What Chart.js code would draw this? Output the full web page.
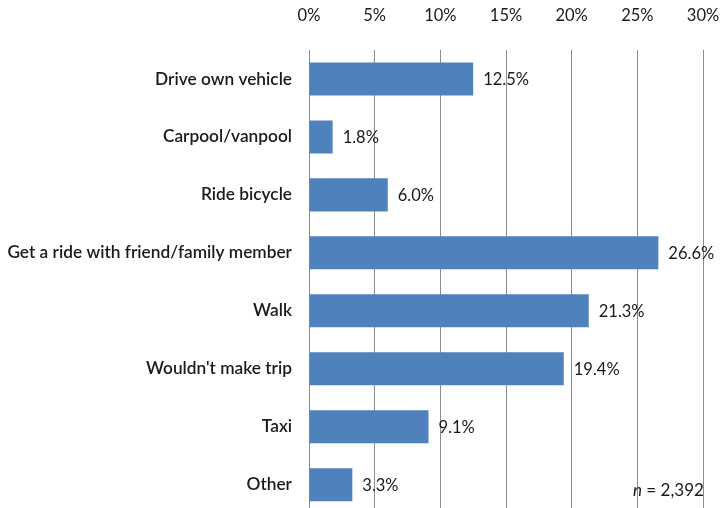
<!DOCTYPE html>
<html>
<head>
<meta charset="utf-8">
<script src="https://cdn.jsdelivr.net/npm/chart.js@4/dist/chart.umd.min.js"></script>
<style>
  html, body { margin: 0; padding: 0; background: #fff; overflow: hidden; }
  #wrap { width: 727px; height: 508px; overflow: hidden; position: relative; }
  #chart { position: absolute; left: 0; top: 0; }
</style>
</head>
<body>
<div id="wrap"><canvas id="chart" width="727" height="533"></canvas></div>
<script>
// ===== Data =====
const categories = [
  'Drive own vehicle',
  'Carpool/vanpool',
  'Ride bicycle',
  'Get a ride with friend/family member',
  'Walk',
  "Wouldn't make trip",
  'Taxi',
  'Other'
];
const shares = [12.5, 1.8, 6.0, 26.6, 21.3, 19.4, 9.1, 3.3];
const tickValues = [0, 5, 10, 15, 20, 25, 30];
const sampleSize = '2,392';

const FONT = "Lato, 'Open Sans', sans-serif";
const TEXT = '#1a1a1a';

// value labels at the end of each bar + sample size note
const barLabels = {
  id: 'barLabels',
  afterDatasetsDraw(chart) {
    const ctx = chart.ctx;
    const meta = chart.getDatasetMeta(0);
    ctx.save();
    ctx.font = '16.5px ' + FONT;
    ctx.fillStyle = TEXT;
    ctx.textAlign = 'left';
    ctx.textBaseline = 'middle';
    meta.data.forEach((bar, i) => {
      ctx.fillText(shares[i].toFixed(1) + '%', bar.x + 10, bar.y + 1);
    });

    // n = 2,392
    const x = 633, y = 491;
    ctx.font = 'italic 17px ' + FONT;
    ctx.fillText('n', x, y);
    const w = ctx.measureText('n').width;
    ctx.font = '17px ' + FONT;
    ctx.fillText(' = ' + sampleSize, x + w, y);
    ctx.restore();
  }
};

new Chart(document.getElementById('chart'), {
  type: 'bar',
  data: {
    labels: categories,
    datasets: [{
      data: shares,
      backgroundColor: '#4F81BD',
      borderWidth: 0,
      barPercentage: 0.57,
      categoryPercentage: 1
    }]
  },
  options: {
    indexAxis: 'y',
    responsive: false,
    animation: false,
    layout: { padding: { left: 0, right: 24, top: 0, bottom: 0 } },
    plugins: {
      legend: { display: false },
      tooltip: { enabled: false }
    },
    scales: {
      x: {
        position: 'top',
        min: 0,
        max: 30,
        afterBuildTicks(scale) {
          scale.ticks = tickValues.map(v => ({ value: v }));
        },
        afterFit(scale) {
          // fixed header band; don't let tick padding eat the right edge
          scale.height = 50;
          scale.paddingLeft = 0;
          scale.paddingRight = 0;
        },
        grid: { color: '#8c8c8c', lineWidth: 1, drawTicks: false },
        border: { display: false },
        ticks: {
          padding: 24,
          color: TEXT,
          font: { family: FONT, size: 16.5 },
          callback: v => v + '%'
        }
      },
      y: {
        afterFit(scale) { scale.width = 309; },
        grid: { display: false },
        border: { display: true, color: '#8c8c8c', width: 1 },
        ticks: {
          padding: 9,
          color: TEXT,
          font: { family: FONT, size: 17.3, weight: '600' }
        }
      }
    }
  },
  plugins: [barLabels]
});
</script>
</body>
</html>
